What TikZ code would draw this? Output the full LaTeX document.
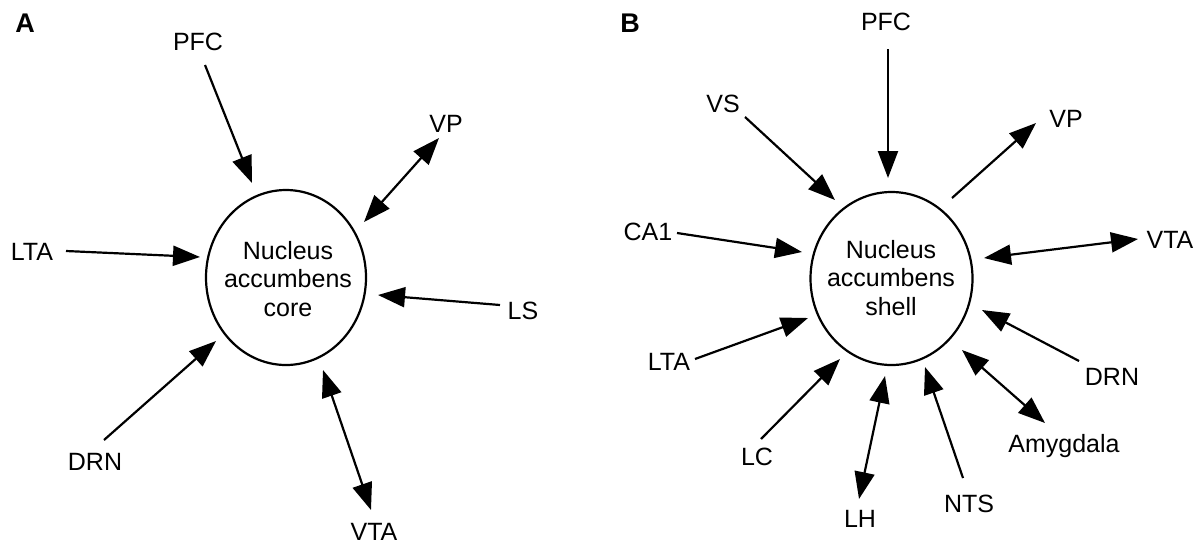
\documentclass[tikz,border=0pt]{standalone}
\usepackage{fontspec}
\setmainfont{Liberation Sans}
\usetikzlibrary{arrows.meta}
\begin{document}
\begin{tikzpicture}[x=1pt,y=-1pt,
  >={Triangle[length=27pt,width=20pt]},
  conn/.style={line width=2.2pt},
  lbl/.style={anchor=base,inner sep=0pt,font=\fontsize{25}{28.5}\selectfont},
  panel/.style={anchor=base,inner sep=0pt,font=\fontsize{27}{30}\selectfont\bfseries},
  ntext/.style={align=center,inner sep=0pt,font=\fontsize{25}{28.5}\selectfont}]
\useasboundingbox (0,0) rectangle (1198,544);
% ---------- Panel A ----------
\node[panel] (labA) at (25,32) {A};
\draw[line width=2.2pt] (286,277.5) ellipse [x radius=80, y radius=87.5];
\node[ntext] (coreA) at (288,279) {Nucleus\\accumbens\\core};
\node[lbl] (pfcA) at (198,50) {PFC};
\node[lbl] (vpA) at (446,132) {VP};
\node[lbl] (ltaA) at (32,260) {LTA};
\node[lbl] (lsA) at (523,319) {LS};
\node[lbl] (drnA) at (95,470) {DRN};
\node[lbl] (vtaA) at (374,540) {VTA};
\coordinate (pfcA-s) at (205,65);   \coordinate (pfcA-e) at (252,183);
\coordinate (vpA-s) at (439,138);   \coordinate (vpA-e) at (364,222);
\coordinate (ltaA-s) at (66,251);   \coordinate (ltaA-e) at (200,257);
\coordinate (lsA-s) at (500,305);   \coordinate (lsA-e) at (378,295);
\coordinate (drnA-s) at (104,440);  \coordinate (drnA-e) at (216,341);
\coordinate (vtaA-s) at (371,510);  \coordinate (vtaA-e) at (323,370);
\draw[conn,->] (pfcA-s) -- (pfcA-e);
\draw[conn,<->] (vpA-s) -- (vpA-e);
\draw[conn,->] (ltaA-s) -- (ltaA-e);
\draw[conn,->] (lsA-s) -- (lsA-e);
\draw[conn,->] (drnA-s) -- (drnA-e);
\draw[conn,<->] (vtaA-s) -- (vtaA-e);
% ---------- Panel B ----------
\node[panel] (labB) at (630,32) {B};
\draw[line width=2.2pt] (891.5,278.5) ellipse [x radius=81, y radius=86.5];
\node[ntext] (shellB) at (891,278) {Nucleus\\accumbens\\shell};
\node[lbl] (pfcB) at (886,30) {PFC};
\node[lbl] (vsB) at (723,112) {VS};
\node[lbl] (vpB) at (1066,127) {VP};
\node[lbl] (ca1B) at (648,240) {CA1};
\node[lbl] (vtaB) at (1170,248) {VTA};
\node[lbl] (ltaB) at (669,370) {LTA};
\node[lbl] (drnB) at (1112,385) {DRN};
\node[lbl] (lcB) at (757,465) {LC};
\node[lbl] (lhB) at (860,527) {LH};
\node[lbl] (ntsB) at (969,512) {NTS};
\node[lbl] (amyB) at (1064,452) {Amygdala};
\coordinate (pfcB-s) at (888,49);   \coordinate (pfcB-e) at (888,178);
\coordinate (vsB-s) at (745,117);   \coordinate (vsB-e) at (835,200);
\coordinate (vpB-s) at (952,198);   \coordinate (vpB-e) at (1036,123);
\coordinate (ca1B-s) at (677,233);  \coordinate (ca1B-e) at (802,252);
\coordinate (vtaB-s) at (1138,239); \coordinate (vtaB-e) at (984,258);
\coordinate (ltaB-s) at (695,359);  \coordinate (ltaB-e) at (808,318);
\coordinate (drnB-s) at (1079,361); \coordinate (drnB-e) at (982,310);
\coordinate (lcB-s) at (761,439);   \coordinate (lcB-e) at (840,359);
\coordinate (lhB-s) at (859,499);   \coordinate (lhB-e) at (885,376);
\coordinate (ntsB-s) at (963,478);  \coordinate (ntsB-e) at (925,367);
\coordinate (amyB-s) at (1045,423); \coordinate (amyB-e) at (962,350);
\draw[conn,->] (pfcB-s) -- (pfcB-e);
\draw[conn,->] (vsB-s) -- (vsB-e);
\draw[conn,->] (vpB-s) -- (vpB-e);
\draw[conn,->] (ca1B-s) -- (ca1B-e);
\draw[conn,<->] (vtaB-s) -- (vtaB-e);
\draw[conn,->] (ltaB-s) -- (ltaB-e);
\draw[conn,->] (drnB-s) -- (drnB-e);
\draw[conn,->] (lcB-s) -- (lcB-e);
\draw[conn,<->] (lhB-s) -- (lhB-e);
\draw[conn,->] (ntsB-s) -- (ntsB-e);
\draw[conn,<->] (amyB-s) -- (amyB-e);
\end{tikzpicture}
\end{document}
